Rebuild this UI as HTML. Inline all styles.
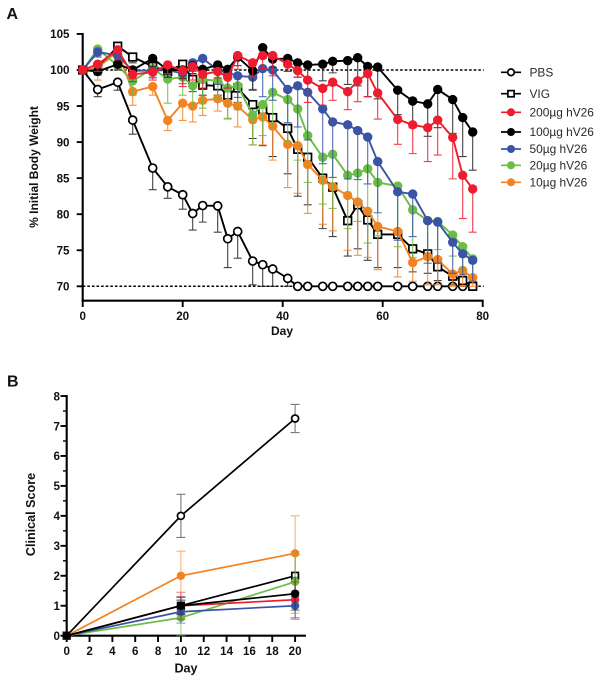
<!DOCTYPE html>
<html lang="en">
<head>
<meta charset="utf-8">
<title>Body weight and clinical score</title>
<style>
html,body{margin:0;padding:0;background:#fff;}
svg{display:block;filter:blur(0.3px);}
text{font-family:"Liberation Sans",Arial,sans-serif;fill:#111;}
.tick{font-size:11.6px;font-weight:bold;}
.title{font-size:12px;font-weight:bold;}
.title-b{font-size:12.6px;font-weight:bold;}
.panel{font-size:16px;font-weight:bold;}
.leg{font-size:11.9px;fill:#2a2a2a;}
</style>
</head>
<body>
<svg id="fig" xmlns="http://www.w3.org/2000/svg" width="600" height="682" viewBox="0 0 600 682">
  <text class="panel" x="6.5" y="19">A</text>
  <text class="panel" x="7" y="386.5">B</text>
  <text class="title" transform="translate(38,167) rotate(-90)" text-anchor="middle">% Initial Body Weight</text>
  <text class="title" x="282" y="335" text-anchor="middle">Day</text>
  <text class="title-b" transform="translate(35,514.5) rotate(-90)" text-anchor="middle">Clinical Score</text>
  <text class="title-b" x="186" y="672.5" text-anchor="middle">Day</text>
  <g id="chartA"></g>
  <g id="chartB"></g>
  <g id="legend"></g>
</svg>
<script>
/* ---------- Chart A data ---------- */
const daysA = [0,3,7,10,14,17,20,22,24,27,29,31,34,36,38,41,43,45,48,50,53,55,57,59,63,66,69,71,74,76,78];
const pbsA = [100,97.3,98.3,93.05,86.4,83.8,82.7,80.1,81.2,81.15,76.6,77.6,73.5,73,72.4,71.1,70,70,70,70,70,70,70,70,70,70,70,70,70,70,70];
const pbsALow = [100,96.3,97.2,91.1,83.4,82.2,80.7,77.8,78.9,77.5,72.6,73.9,70.2,70,70,70,70,70,70,70,70,70,70,70,70,70,70,70,70,70,70];
const vigA = [100,100.2,103.3,101.8,100.5,99.8,100.8,98.7,97.9,97.8,96.5,97.5,95.2,94.5,93.4,91.9,89,87.9,85,83.75,79.1,81.3,79.2,77.2,77.2,75.2,74.5,72.7,71.4,70.8,70];
const vigALow = [100,100,102.5,101,99.5,99,99.7,97,96.5,96.5,95.5,95.5,90.5,89.5,88,85.6,82.5,81.3,78,76.9,74.2,75.2,73.6,72.6,72.6,72,71.8,70.8,70.2,70,70];
const redA = [100,100.8,102.8,99.4,99.7,100.7,99.9,100.5,99.4,99.8,99,102,101,102,102,100.8,99.9,98.6,97.45,98.3,97,98.5,99.5,96.8,93.15,92.4,92,93.05,90.65,85.4,83.5];
const redALow = [100,99.8,101.4,98.8,98.6,99.5,97.7,98.6,97.5,98.9,97.5,100.1,99,100.2,99.2,99.8,99,95.5,95.1,95.8,94.5,95.6,96.3,93.2,89.7,88.4,87.3,88.2,84.9,79.4,77.5];
const blackA = [100,99.8,100.8,100,101.6,100,100,100.6,100.1,100.7,100.1,101.8,99.9,103.1,101.5,101.6,101,100.7,100.8,101.2,101.3,101.7,100.5,100.4,97.2,95.7,95.3,97.3,95.9,93.4,91.4];
const blackALow = [100,99.3,100,99.3,100.5,99,98.8,99.5,99,99.5,98.8,100.6,97.2,101.6,100.4,99.8,99,98.5,98.5,99.6,98,97.8,96.3,96,93.8,92,90.8,92,91.2,88,86.1];
const blueA = [100,102.5,102,99.9,99.9,100,99.5,101,101.6,100,99.6,99.2,99,100.2,100,97.3,97.8,96.9,94.6,92.8,92.4,91.6,90.7,87.3,83.1,82.8,79.1,78.9,76.1,74.5,73.6];
const blueALow = [100,101.8,101,98.4,98.9,99,98.1,99.8,100.2,98,97.5,96.2,97.3,96.3,95.8,92.7,92.1,90.3,87,85.1,84.9,84.8,84.2,80.2,76.4,76.9,73.2,73.2,71.8,71.6,70.7];
const greenA = [100,102.9,100.6,98.5,100.2,98.75,99,97.8,98.7,98.5,97.5,97.8,93.75,95.2,96.9,95.9,94.6,90.9,87.9,88.3,85.4,85.7,86.3,84.4,83.9,80.6,79.1,79,77.1,75.5,73.8];
const greenALow = [100,102,100,96.5,99,95.4,96.5,94.8,94.7,96,93.3,94.5,89.6,90.9,92,90,87.5,84.4,81.4,80.8,78,79,76,77,75.5,74,74,75.1,74.2,72.5,71.5];
const orangeA = [100,100.3,102.6,97,97.7,93,95.4,95,95.8,96,95.4,95,93.1,93.5,92.2,89.7,89.5,86.9,84.7,83.8,82.6,81.7,80.4,78.3,77.6,73.3,74.1,73.7,71.7,72.2,71.2];
const orangeALow = [100,98.6,101.4,95.1,96.5,91.6,93,92.8,93.7,94.3,93.2,92.1,89.6,89.6,87.5,83.7,82.9,80.1,78.6,77.7,75,74.3,74,72.3,71.3,70.7,70.2,70.2,70,70,70];
const xTicksA = [0,20,40,60,80];
const yTicksA = [70,75,80,85,90,95,100,105];
const refLinesA = [100,70];

/* ---------- Chart B data ---------- */
const daysB = [0,10,20];
const pbsB = [0,4,7.25];
const pbsBLow = [0,3.28,6.78];
const pbsBHigh = [0,4.72,7.72];
const vigB = [0,1,2];
const vigBLow = [0,0.7,1.3];
const vigBHigh = [0,1.3,2.7];
const redB = [0,1,1.2];
const redBLow = [0,0.55,0.6];
const redBHigh = [0,1.45,1.8];
const blackB = [0,1,1.4];
const blackBLow = [0,0.72,0.85];
const blackBHigh = [0,1.28,1.95];
const blueB = [0,0.8,1];
const blueBLow = [0,0.42,0.55];
const blueBHigh = [0,1.18,1.45];
const greenB = [0,0.6,1.8];
const greenBLow = [0,0,0.75];
const greenBHigh = [0,1.2,2.8];
const orangeB = [0,2,2.75];
const orangeBLow = [0,1.18,1.5];
const orangeBHigh = [0,2.82,4];
const xTicksB = [0,2,4,6,8,10,12,14,16,18,20];
const yTicksB = [0,1,2,3,4,5,6,7,8];

/* ---------- Legend labels ---------- */
const legendLabels = ["PBS","VIG","200\u00b5g hV26","100\u00b5g hV26","50\u00b5g hV26","20\u00b5g hV26","10\u00b5g hV26"];

/* ---------- Scales and styles ---------- */
const NS = "http://www.w3.org/2000/svg";
const xA = d => 82.7 + d * 5;
const yA = v => 70 + (100 - v) * 7.21;
const xB = d => 66.7 + d * 11.42;
const yB = v => 635.7 - v * 29.96;
const C = {black:"#000000",red:"#ed1c2e",blue:"#3a53a4",green:"#6abd45",orange:"#f58220"};
const styles = {
  pbs:{color:C.black,shape:"circle-open"},
  vig:{color:C.black,shape:"square-open"},
  red:{color:C.red,shape:"dot"},
  black:{color:C.black,shape:"dot"},
  blue:{color:C.blue,shape:"dot"},
  green:{color:C.green,shape:"dot"},
  orange:{color:C.orange,shape:"dot"}
};

function mk(tag, parent, attrs){
  const el = document.createElementNS(NS, tag);
  for (const k in attrs) el.setAttribute(k, attrs[k]);
  parent.appendChild(el);
  return el;
}

function marker(parent, style, x, y, r){
  let el;
  if (style.shape === "dot") {
    el = mk("circle", parent, {cx:x, cy:y, r:r, fill:style.color});
  } else if (style.shape === "circle-open") {
    el = mk("circle", parent, {cx:x, cy:y, r:r-0.7, fill:"#fff", stroke:"#000", "stroke-width":1.7});
  } else {
    el = mk("rect", parent, {x:x-r+0.9, y:y-r+0.9, width:2*r-1.8, height:2*r-1.8, fill:"#fff", stroke:"#000", "stroke-width":1.7});
  }
  
  
  return el;
}

function drawSeries(root, name, style, days, vals, low, high, xs, ys, opt){
  const g = mk("g", root, {});
  
  
  const errColor = style.color === C.black ? "#222" : style.color;
  days.forEach((d, i) => {
    const x = xs(d);
    const y0 = high ? ys(high[i]) : ys(vals[i]);
    const y1 = ys(low[i]);
    if (Math.abs(y1 - y0) < 0.1) return;
    const e = mk("path", g, {
      d:"M"+x+" "+y0+"V"+y1+"M"+(x-opt.cap)+" "+y1+"H"+(x+opt.cap)+(high ? "M"+(x-opt.cap)+" "+y0+"H"+(x+opt.cap) : ""),
      fill:"none", stroke:errColor, "stroke-width":1.1, opacity:opt.errOpacity
    });
    
    
  });
  const line = mk("polyline", g, {
    points:days.map((d, i) => xs(d) + "," + ys(vals[i])).join(" "),
    fill:"none", stroke:style.color, "stroke-width":opt.lw, "stroke-linejoin":"round"
  });
  
  
  days.forEach((d, i) => marker(g, style, xs(d), ys(vals[i]), opt.r));
}

function axisLine(parent, d, w){
  const p = mk("path", parent, {d:d, fill:"none", stroke:"#000", "stroke-width":w});
  
  
  return p;
}

function tickLabel(parent, x, y, anchor, str){
  const t = mk("text", parent, {x:x, y:y, "text-anchor":anchor, class:"tick"});
  t.textContent = str;
  
  
}

/* ---------- Draw chart A ---------- */
const A = document.getElementById("chartA");
refLinesA.forEach(v => {
  const r = mk("line", A, {x1:xA(0), x2:xA(80.2), y1:yA(v), y2:yA(v), stroke:"#000", "stroke-width":1.5, "stroke-dasharray":"2.6 2"});
  
  
});
axisLine(A, "M"+xA(0)+" "+(yA(105)-1)+"V301.7", 2.1);
axisLine(A, "M"+(xA(0)-1)+" 300.7H"+(xA(80)+1), 2.1);
yTicksA.forEach(v => {
  axisLine(A, "M"+(xA(0)-6)+" "+yA(v)+"H"+xA(0), 1.9);
  tickLabel(A, 69.5, yA(v)+4.2, "end", String(v));
});
xTicksA.forEach(d => {
  axisLine(A, "M"+xA(d)+" 300.7V307", 1.9);
  tickLabel(A, xA(d), 320, "middle", String(d));
});
const optA = {cap:4, lw:1.9, r:4.7, errOpacity:0.85};
drawSeries(A, "pbs", styles.pbs, daysA, pbsA, pbsALow, null, xA, yA, optA);
drawSeries(A, "vig", styles.vig, daysA, vigA, vigALow, null, xA, yA, optA);
drawSeries(A, "10ug-hv26", styles.orange, daysA, orangeA, orangeALow, null, xA, yA, optA);
drawSeries(A, "20ug-hv26", styles.green, daysA, greenA, greenALow, null, xA, yA, optA);
drawSeries(A, "50ug-hv26", styles.blue, daysA, blueA, blueALow, null, xA, yA, optA);
drawSeries(A, "100ug-hv26", styles.black, daysA, blackA, blackALow, null, xA, yA, optA);
drawSeries(A, "200ug-hv26", styles.red, daysA, redA, redALow, null, xA, yA, optA);

/* ---------- Draw chart B ---------- */
const B = document.getElementById("chartB");
axisLine(B, "M66.7 395V636.7", 2.1);
axisLine(B, "M65.7 635.7H306", 2.1);
yTicksB.forEach(v => {
  axisLine(B, "M60.5 "+yB(v)+"H66.7", 1.9);
  tickLabel(B, 60, yB(v)+4.3, "end", String(v));
  if (v < 8) axisLine(B, "M63 "+yB(v+0.5)+"H66.7", 1.4);
});
xTicksB.forEach(d => {
  axisLine(B, "M"+xB(d)+" 635.7V642", 1.9);
  tickLabel(B, xB(d), 655, "middle", String(d));
});
const optB = {cap:4.5, lw:1.7, r:4.2, errOpacity:0.6};
drawSeries(B, "pbs", styles.pbs, daysB, pbsB, pbsBLow, pbsBHigh, xB, yB, optB);
drawSeries(B, "vig", styles.vig, daysB, vigB, vigBLow, vigBHigh, xB, yB, optB);
drawSeries(B, "10ug-hv26", styles.orange, daysB, orangeB, orangeBLow, orangeBHigh, xB, yB, optB);
drawSeries(B, "20ug-hv26", styles.green, daysB, greenB, greenBLow, greenBHigh, xB, yB, optB);
drawSeries(B, "200ug-hv26", styles.red, daysB, redB, redBLow, redBHigh, xB, yB, optB);
drawSeries(B, "50ug-hv26", styles.blue, daysB, blueB, blueBLow, blueBHigh, xB, yB, optB);
drawSeries(B, "100ug-hv26", styles.black, daysB, blackB, blackBLow, blackBHigh, xB, yB, optB);

/* ---------- Draw legend ---------- */
const L = document.getElementById("legend");
const legendStyles = [styles.pbs, styles.vig, styles.red, styles.black, styles.blue, styles.green, styles.orange];
const legendY = [72.3, 93.7, 112.3, 132, 149, 165.3, 182.3];
legendLabels.forEach((label, i) => {
  const g = mk("g", L, {});
  
  
  const s = mk("line", g, {x1:501, x2:521, y1:legendY[i], y2:legendY[i], stroke:legendStyles[i].color, "stroke-width":1.7});
  
  
  marker(g, legendStyles[i], 511, legendY[i], 4);
  const t = mk("text", g, {x:529.5, y:legendY[i]+4.2, class:"leg"});
  t.textContent = label;
  
  
});
</script>
</body>
</html>
